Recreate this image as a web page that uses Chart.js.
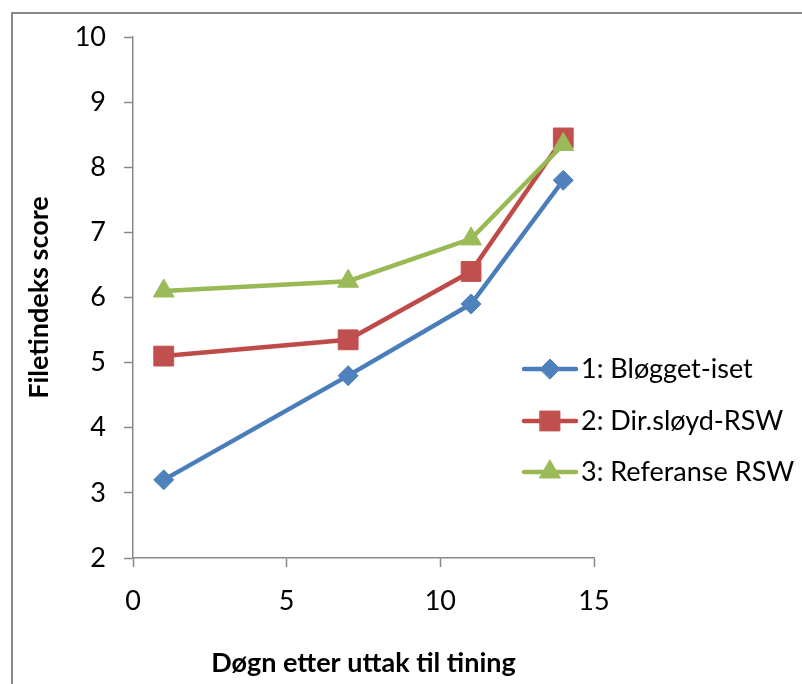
<!DOCTYPE html>
<html>
<head>
<meta charset="utf-8">
<script src="https://cdn.jsdelivr.net/npm/chart.js@4/dist/chart.umd.min.js"></script>
<style>
  html, body { margin: 0; padding: 0; background: #fff; overflow: hidden; }
  #wrap { position: relative; width: 802px; height: 684px; }
  #frame { position: absolute; left: 11px; top: 12px; width: 900px; height: 900px; border: 2px solid #898989; box-sizing: border-box; }
  #c { position: absolute; left: 0; top: 0; }
</style>
</head>
<body>
<div id="wrap">
  <div id="frame"></div>
  <canvas id="c" width="802" height="684"></canvas>
</div>
<script>
// ---- data ----
const days = [1, 7, 11, 14];
const seriesNames = ['1: Bløgget-iset', '2: Dir.sløyd-RSW', '3: Referanse RSW'];
const blogget = [3.2, 4.8, 5.9, 7.8];
const dirSloyd = [5.1, 5.35, 6.4, 8.45];
const referanse = [6.1, 6.25, 6.9, 8.35];
const xTitle = 'Døgn etter uttak til tining';
const yTitle = 'Filetindeks score';

const FONT = 'Lato, Carlito, "Liberation Sans", sans-serif';
const AXIS = '#898989';

function pts(ys) { return days.map((d, i) => ({ x: d, y: ys[i] })); }

const styles = [
  { line: '#4A7EBB', fill: '#4F81BD', shape: 'rectRot', r: 10 },
  { line: '#BE4B48', fill: '#C0504D', shape: 'rect', r: 14 },
  { line: '#98B954', fill: '#9BBB59', shape: 'triangle', r: 12 }
];
const values = [blogget, dirSloyd, referanse];

const datasets = values.map((v, i) => ({
  label: seriesNames[i],
  data: pts(v),
  borderColor: styles[i].line,
  backgroundColor: styles[i].fill,
  borderWidth: 4.5,
  pointStyle: styles[i].shape,
  pointRadius: styles[i].r,
  pointHoverRadius: styles[i].r,
  pointBackgroundColor: styles[i].fill,
  pointBorderColor: styles[i].fill,
  pointBorderWidth: 1,
  tension: 0,
  fill: false,
  order: 3 - i
}));

const legendPlugin = {
  id: 'sideLegend',
  afterDraw(chart) {
    const ctx = chart.ctx;
    const rows = [369, 421, 472];
    ctx.save();
    datasets.forEach((ds, i) => {
      const y = rows[i];
      ctx.strokeStyle = ds.borderColor;
      ctx.lineWidth = ds.borderWidth;
      ctx.lineCap = 'round';
      ctx.beginPath();
      ctx.moveTo(524, y);
      ctx.lineTo(576, y);
      ctx.stroke();
      ctx.fillStyle = ds.pointBackgroundColor;
      ctx.strokeStyle = ds.pointBorderColor;
      ctx.lineWidth = 1;
      Chart.helpers.drawPoint(ctx, { pointStyle: ds.pointStyle, radius: ds.pointRadius, rotation: 0, borderWidth: 1 }, 550, y);
      ctx.fillStyle = '#000';
      ctx.font = '27px ' + FONT;
      ctx.textAlign = 'left';
      ctx.textBaseline = 'middle';
      ctx.fillText(ds.label, 581, y);
    });
    ctx.restore();
  }
};

new Chart(document.getElementById('c'), {
  type: 'line',
  data: { datasets },
  plugins: [legendPlugin],
  options: {
    responsive: false,
    animation: false,
    events: [],
    layout: { padding: { left: 12, top: 37, right: 208, bottom: 0 } },
    plugins: { legend: { display: false }, tooltip: { enabled: false }, title: { display: false } },
    scales: {
      x: {
        type: 'linear',
        min: 0, max: 15,
        afterFit(s) { s.height = 126; },
        ticks: { stepSize: 5, maxRotation: 0, padding: 18, color: '#000', font: { family: FONT, size: 27 } },
        grid: { drawOnChartArea: false, drawTicks: true, tickLength: 9, color: AXIS, tickWidth: 1.5 },
        border: { display: true, color: AXIS, width: 1.5 },
        title: { display: true, text: xTitle, color: '#000', font: { family: FONT, size: 27, weight: 'bold', lineHeight: 1.2 }, padding: { top: 0, bottom: 5 } }
      },
      y: {
        type: 'linear',
        min: 2, max: 10,
        afterFit(s) { s.width = 121; },
        ticks: { stepSize: 1, padding: 18, color: '#000', font: { family: FONT, size: 27 } },
        grid: { drawOnChartArea: false, drawTicks: true, tickLength: 9, color: AXIS, tickWidth: 1.5 },
        border: { display: true, color: AXIS, width: 1.5 },
        title: { display: true, text: yTitle, color: '#000', font: { family: FONT, size: 27, weight: 'bold', lineHeight: 1.2 }, padding: { top: 11, bottom: 0 } }
      }
    }
  }
});
</script>
</body>
</html>
